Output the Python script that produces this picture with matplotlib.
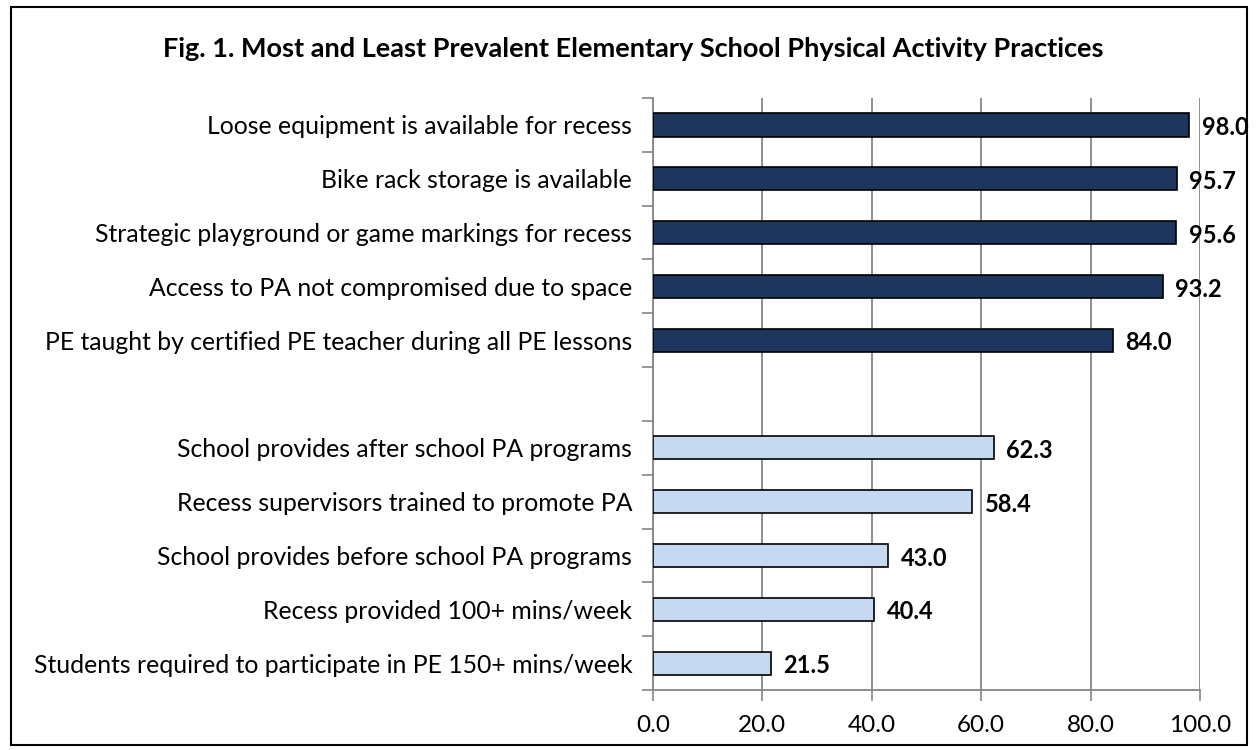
import numpy as np
import matplotlib.pyplot as plt
from matplotlib.patches import Rectangle
from matplotlib.ticker import FormatStrFormatter

plt.rcParams['font.family'] = ['Lato', 'DejaVu Sans']

# Most prevalent practices (dark bars)
top_labels = ["Loose equipment is available for recess",
              "Bike rack storage is available",
              "Strategic playground or game markings for recess",
              "Access to PA not compromised due to space",
              "PE taught by certified PE teacher during all PE lessons"]
top_values = [98.0, 95.7, 95.6, 93.2, 84.0]

# Least prevalent practices (light bars)
low_labels = ["School provides after school PA programs",
              "Recess supervisors trained to promote PA",
              "School provides before school PA programs",
              "Recess provided 100+ mins/week",
              "Students required to participate in PE 150+ mins/week"]
low_values = [62.3, 58.4, 43.0, 40.4, 21.5]

x_ticks = [0, 20, 40, 60, 80, 100]

fig = plt.figure(figsize=(12.57, 7.5), dpi=100)
ax = fig.add_axes([0.5195, 0.08, 0.4352, 0.7893])

# one blank slot between the two groups
pos_top = np.arange(len(top_values))
pos_low = np.arange(len(low_values)) + len(top_values) + 1

ax.barh(pos_top, top_values, height=0.43, color='#1c365e', edgecolor='black', linewidth=1.2, zorder=3)
ax.barh(pos_low, low_values, height=0.43, color='#c6d9f1', edgecolor='black', linewidth=1.2, zorder=3)

for p, v in list(zip(pos_top, top_values)) + list(zip(pos_low, low_values)):
    ax.text(v + 2.3, p + 0.05, f"{v:.1f}", va='center', ha='left',
            fontsize=17, fontweight='bold', zorder=4)

n = len(top_values) + len(low_values) + 1
ax.set_ylim(n - 0.5, -0.5)
ax.set_xlim(0, 100)

ax.set_yticks(list(pos_top) + list(pos_low))
ax.set_yticklabels(top_labels + low_labels, fontsize=17.8)
ax.set_yticks(np.arange(n + 1) - 0.5, minor=True)
ax.tick_params(axis='y', which='major', length=0, pad=15)
ax.tick_params(axis='y', which='minor', length=8, color='#868686', width=1.2)

ax.set_xticks(x_ticks)
ax.xaxis.set_major_formatter(FormatStrFormatter('%.1f'))
ax.tick_params(axis='x', length=8, color='#868686', width=1.2, labelsize=17.5, pad=10)

ax.grid(axis='x', color='#868686', linewidth=1.3, zorder=0)
for s in ['top', 'right']:
    ax.spines[s].set_visible(False)
for s in ['left', 'bottom']:
    ax.spines[s].set_color('#868686')
    ax.spines[s].set_linewidth(1.3)

fig.text(0.504, 0.935, "Fig. 1. Most and Least Prevalent Elementary School Physical Activity Practices",
         ha='center', va='center', fontsize=19.5, fontweight='bold')

# outer border
fig.patches.append(Rectangle((0.009, 0.007), 0.983, 0.984, transform=fig.transFigure,
                             fill=False, edgecolor='black', linewidth=1.5))

plt.savefig('out.png', dpi=100)
